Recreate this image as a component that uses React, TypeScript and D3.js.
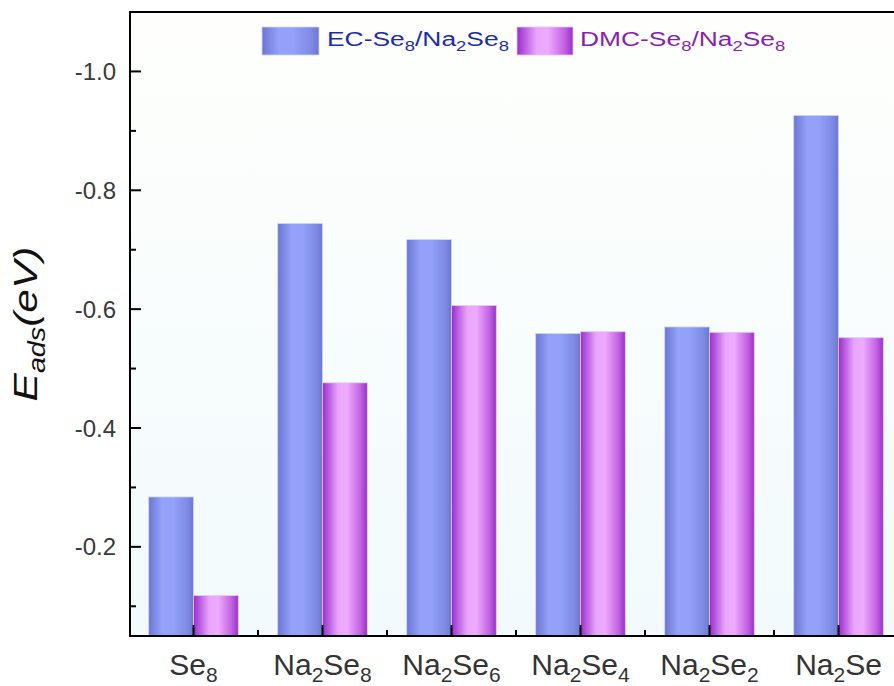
import * as React from 'react'
import * as d3 from 'd3'

const width = 894
const height = 686
const margin = { top: 12, right: -9, bottom: 50, left: 130 }

// category labels: [base, subscript] pairs
const categories = ['Se8', 'Na2Se8', 'Na2Se6', 'Na2Se4', 'Na2Se2', 'Na2Se']
const categoryParts = [
  [['Se', ''], ['8', 'sub']],
  [['Na', ''], ['2', 'sub'], ['Se', ''], ['8', 'sub']],
  [['Na', ''], ['2', 'sub'], ['Se', ''], ['6', 'sub']],
  [['Na', ''], ['2', 'sub'], ['Se', ''], ['4', 'sub']],
  [['Na', ''], ['2', 'sub'], ['Se', ''], ['2', 'sub']],
  [['Na', ''], ['2', 'sub'], ['Se', '']],
]
const series = ['EC', 'DMC']
// adsorption energies (eV), stored as magnitude, axis shows negative
const ecValues = [0.284, 0.744, 0.717, 0.559, 0.570, 0.926]
const dmcValues = [0.118, 0.476, 0.606, 0.562, 0.561, 0.552]
const yTicks = [0.2, 0.4, 0.6, 0.8, 1.0]
const yMinorTicks = [0.1, 0.3, 0.5, 0.7, 0.9]

const ecText = '#1f2ca8'
const dmcText = '#8a1fae'

const Sub = ({ parts, subSize, dy }: any) => (
  <>
    {parts.map(([t, k]: any, i: number) => {
      const prev = i > 0 ? parts[i - 1][1] : ''
      let shift = 0
      if (k === 'sub' && prev !== 'sub') shift = dy
      if (k !== 'sub' && prev === 'sub') shift = -dy
      return (
        <tspan key={i} dy={shift} fontSize={k === 'sub' ? subSize : undefined}>
          {t}
        </tspan>
      )
    })}
  </>
)

const App = () => {
  const plotRight = width - margin.right
  const plotBottom = height - margin.bottom

  const xScale = d3
    .scaleBand()
    .domain(categories)
    .range([margin.left - 1, plotRight])
    .padding(0)
  const xInner = d3
    .scaleBand()
    .domain(series)
    .range([0, xScale.bandwidth()])
    .paddingInner(0)
    .paddingOuter(0.44)
  const yScale = d3
    .scaleLinear()
    .domain([0.05, 1.1])
    .range([plotBottom, margin.top])

  const valuesFor = (s: string) => (s === 'EC' ? ecValues : dmcValues)

  return (
    <svg
      width={width}
      height={height}
      style={{ position: 'absolute', left: 0, top: 0, background: '#fff' }}
      fontFamily="Arial, 'Liberation Sans', sans-serif"
    >
      <defs>
        <linearGradient id="bg" x1="0" y1="0" x2="0" y2="1">
          <stop offset="0%" stopColor="#fefffc" />
          <stop offset="100%" stopColor="#f2fafd" />
        </linearGradient>
        <linearGradient id="gEC" x1="0" y1="0" x2="1" y2="0">
          <stop offset="0%" stopColor="#6b76d3" />
          <stop offset="30%" stopColor="#94a2fb" />
          <stop offset="55%" stopColor="#93a1fc" />
          <stop offset="85%" stopColor="#7f8be4" />
          <stop offset="100%" stopColor="#6c78d0" />
        </linearGradient>
        <linearGradient id="gDMC" x1="0" y1="0" x2="1" y2="0">
          <stop offset="0%" stopColor="#9a2dcf" />
          <stop offset="35%" stopColor="#e9a5fb" />
          <stop offset="55%" stopColor="#eeabff" />
          <stop offset="85%" stopColor="#c261e2" />
          <stop offset="100%" stopColor="#992fc9" />
        </linearGradient>
        <clipPath id="plotClip">
          <rect x={margin.left} y={margin.top} width={plotRight - margin.left} height={plotBottom - margin.top} />
        </clipPath>
      </defs>

      <rect
        x={margin.left}
        y={margin.top}
        width={plotRight - margin.left}
        height={plotBottom - margin.top}
        fill="url(#bg)"
      />

      {/* bars */}
      <g clipPath="url(#plotClip)">
        {categories.map((c, i) => (
          <g key={c} transform={`translate(${xScale(c)}, 0)`}>
            {series.map(s => {
              const v = valuesFor(s)[i]
              return (
                <rect
                  key={s}
                  x={xInner(s)}
                  y={yScale(v)}
                  width={xInner.bandwidth()}
                  height={plotBottom - yScale(v)}
                  fill={s === 'EC' ? 'url(#gEC)' : 'url(#gDMC)'}
                  stroke={s === 'EC' ? '#cfd4f6' : '#e6c8f2'}
                  strokeWidth={0.8}
                />
              )
            })}
          </g>
        ))}
      </g>

      {/* y ticks */}
      <g>
        {yTicks.map(t => (
          <g key={t} transform={`translate(0, ${yScale(t)})`}>
            <line x1={margin.left} x2={margin.left + 11} stroke="#000" strokeWidth={2} />
            <text x={116} dy="0.36em" textAnchor="end" fontSize={24} fill="#3a3a3a">
              {'-' + t.toFixed(1)}
            </text>
          </g>
        ))}
        {yMinorTicks.map(t => (
          <line
            key={t}
            x1={margin.left}
            x2={margin.left + 6}
            y1={yScale(t)}
            y2={yScale(t)}
            stroke="#000"
            strokeWidth={2}
          />
        ))}
      </g>

      {/* x ticks */}
      <g>
        {categories.map((c, i) => {
          const cx = (xScale(c) as number) + xScale.bandwidth() / 2
          return (
            <g key={c}>
              <line x1={cx} x2={cx} y1={plotBottom} y2={plotBottom - 11} stroke="#000" strokeWidth={2} />
              {i > 0 && (
                <line
                  x1={xScale(c)}
                  x2={xScale(c)}
                  y1={plotBottom}
                  y2={plotBottom - 6}
                  stroke="#000"
                  strokeWidth={2}
                />
              )}
              <text x={cx} y={plotBottom + 39} textAnchor="middle" fontSize={30} fill="#333">
                <Sub parts={categoryParts[i]} subSize={21} dy={7} />
              </text>
            </g>
          )
        })}
      </g>

      {/* frame */}
      <rect
        x={margin.left}
        y={margin.top}
        width={plotRight - margin.left}
        height={plotBottom - margin.top}
        fill="none"
        stroke="#000"
        strokeWidth={2}
      />

      {/* y title */}
      <g transform={`translate(37, ${(margin.top + plotBottom) / 2}) rotate(-90)`}>
        <text textAnchor="middle" fontSize={34} fontStyle="italic" fill="#111" transform="scale(1.25,1)">
          <tspan>E</tspan>
          <tspan fontSize={23} dy={8}>ads</tspan>
          <tspan dy={-8}>(eV)</tspan>
        </text>
      </g>

      {/* legend */}
      <g>
        <rect x={262} y={27} width={57} height={28} fill="url(#gEC)" stroke="#cfd4f6" strokeWidth={0.8} />
        <text transform="translate(327, 46) scale(1.32, 1)" fontSize={20} fill={ecText}>
          <Sub
            parts={[['EC-Se', ''], ['8', 'sub'], ['/Na', ''], ['2', 'sub'], ['Se', ''], ['8', 'sub']]}
            subSize={14}
            dy={5}
          />
        </text>
        <rect x={517} y={27} width={56} height={28} fill="url(#gDMC)" stroke="#e6c8f2" strokeWidth={0.8} />
        <text transform="translate(580, 46) scale(1.32, 1)" fontSize={20} fill={dmcText}>
          <Sub
            parts={[['DMC-Se', ''], ['8', 'sub'], ['/Na', ''], ['2', 'sub'], ['Se', ''], ['8', 'sub']]}
            subSize={14}
            dy={5}
          />
        </text>
      </g>
    </svg>
  )
}

export default App
